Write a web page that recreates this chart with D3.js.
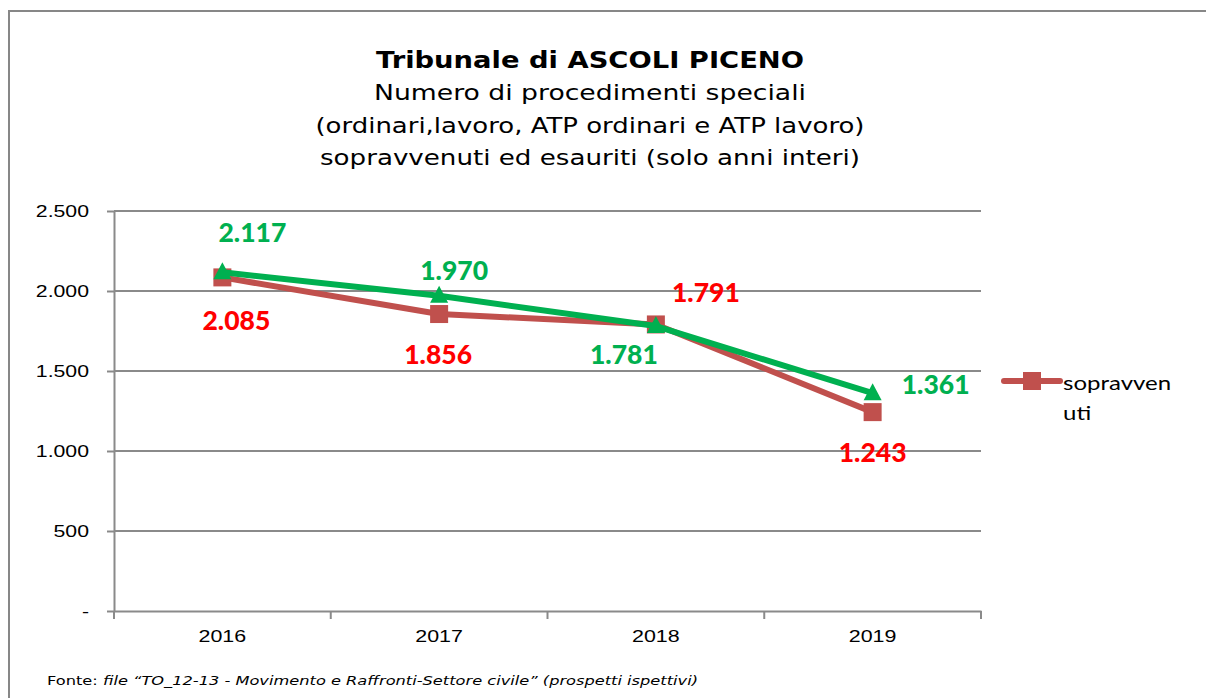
<!DOCTYPE html>
<html>
<head>
<meta charset="utf-8">
<script src="https://cdn.jsdelivr.net/npm/d3@7"></script>
<style>
  body { margin: 0; background: #fff; }
  svg { display: block; }
</style>
</head>
<body>
<svg id="chart" width="1206" height="698"></svg>
<script>
// Chart values
const years = ['2016', '2017', '2018', '2019'];
const sopravvenuti = [2085, 1856, 1791, 1243];
const esauriti = [2117, 1970, 1781, 1361];
const yTicks = [0, 500, 1000, 1500, 2000, 2500];
const titleLines = [
  'Tribunale di ASCOLI PICENO',
  'Numero di procedimenti speciali',
  '(ordinari,lavoro, ATP ordinari e ATP lavoro)',
  'sopravvenuti ed esauriti (solo anni interi)'
];
const legendLabel = ['sopravven', 'uti'];

// label offsets (dx, dy) from each point, as placed in the original
const redLabelOffsets = [[14, 53], [-1, 50], [50, -22], [0, 50]];
const greenLabelOffsets = [[30, -30], [15, -16], [-32, 38], [63, 1]];

const svg = d3.select('#chart');
const width = 1206, height = 698;
const plot = { left: 114, right: 981, top: 211, bottom: 611 };

const itFormat = d3.formatLocale({ decimal: ',', thousands: '.', grouping: [3], currency: ['€', ''] }).format(',d');
const fmt = v => (v === 0 ? '-' : itFormat(v));

// stretch text horizontally, the original glyphs are wider than ours
function stretch(sel, k) {
  sel.each(function () {
    const w = this.getComputedTextLength();
    this.setAttribute('textLength', w * k);
    this.setAttribute('lengthAdjust', 'spacingAndGlyphs');
  });
}

// outer frame (only top and left edges visible)
svg.append('path')
  .attr('d', `M9,${height} L9,11 L${width},11`)
  .attr('fill', 'none')
  .attr('stroke', '#878787')
  .attr('stroke-width', 2);

// title
const titleWidths = [428, 432, 549, 540];
const titleBase = [68, 100, 133, 165];
titleLines.forEach((t, i) => {
  svg.append('text')
    .attr('x', 590)
    .attr('y', titleBase[i])
    .attr('text-anchor', 'middle')
    .attr('font-family', '"DejaVu Sans", Verdana, sans-serif')
    .attr('font-size', i === 0 ? 23 : 22)
    .attr('font-weight', i === 0 ? 'bold' : 'normal')
    .attr('fill', '#000')
    .attr('textLength', titleWidths[i])
    .attr('lengthAdjust', 'spacingAndGlyphs')
    .text(t);
});

// scales
const x = d3.scaleBand().domain(years).range([plot.left, plot.right]).paddingInner(0).paddingOuter(0);
const y = d3.scaleLinear().domain([0, 2500]).range([plot.bottom, plot.top]);
const cx = d => x(d) + x.bandwidth() / 2;

// gridlines
svg.append('g')
  .selectAll('line')
  .data(yTicks.filter(v => v > 0))
  .join('line')
  .attr('x1', plot.left)
  .attr('x2', plot.right)
  .attr('y1', d => y(d))
  .attr('y2', d => y(d))
  .attr('stroke', '#8a8a8a')
  .attr('stroke-width', 2);

// y axis
const yAxis = svg.append('g')
  .attr('transform', `translate(${plot.left},0)`)
  .call(d3.axisLeft(y).tickValues(yTicks).tickFormat(fmt).tickSize(7).tickSizeOuter(0).tickPadding(18));
yAxis.select('.domain').attr('stroke', '#8a8a8a').attr('stroke-width', 2);
yAxis.selectAll('.tick line').attr('stroke', '#8a8a8a').attr('stroke-width', 2);
yAxis.selectAll('.tick text')
  .attr('font-family', '"Liberation Sans", Arial, sans-serif')
  .attr('font-size', 17)
  .attr('fill', '#000')
  .call(stretch, 1.25);

// x axis: labels at band centres, ticks at band edges
const xAxis = svg.append('g')
  .attr('transform', `translate(0,${plot.bottom})`)
  .call(d3.axisBottom(x).tickSize(0).tickSizeOuter(0).tickPadding(19));
xAxis.select('.domain').attr('stroke', '#8a8a8a').attr('stroke-width', 2);
xAxis.selectAll('.tick text')
  .attr('font-family', '"Liberation Sans", Arial, sans-serif')
  .attr('font-size', 17)
  .attr('fill', '#000')
  .call(stretch, 1.26);
svg.append('g')
  .selectAll('line')
  .data([years[0], ...years])
  .join('line')
  .attr('x1', (d, i) => (i === 0 ? x(d) : x(d) + x.bandwidth()))
  .attr('x2', (d, i) => (i === 0 ? x(d) : x(d) + x.bandwidth()))
  .attr('y1', plot.bottom)
  .attr('y2', plot.bottom + 8)
  .attr('stroke', '#8a8a8a')
  .attr('stroke-width', 2);

const line = d3.line().x((d, i) => cx(years[i])).y(d => y(d));

// sopravvenuti (red)
svg.append('path')
  .datum(sopravvenuti)
  .attr('d', line)
  .attr('fill', 'none')
  .attr('stroke', '#C0504D')
  .attr('stroke-width', 6)
  .attr('stroke-linejoin', 'round');
svg.append('g')
  .selectAll('rect')
  .data(sopravvenuti)
  .join('rect')
  .attr('x', (d, i) => cx(years[i]) - 9)
  .attr('y', d => y(d) - 9)
  .attr('width', 18)
  .attr('height', 18)
  .attr('fill', '#C0504D');

// esauriti (green)
svg.append('path')
  .datum(esauriti)
  .attr('d', line)
  .attr('fill', 'none')
  .attr('stroke', '#00B050')
  .attr('stroke-width', 6)
  .attr('stroke-linejoin', 'round');
svg.append('g')
  .selectAll('path')
  .data(esauriti)
  .join('path')
  .attr('d', (d, i) => {
    const px = cx(years[i]), py = y(d);
    return `M${px},${py - 10} L${px + 9},${py + 7} L${px - 9},${py + 7} Z`;
  })
  .attr('fill', '#00B050');

// data labels
function labels(values, offsets, color) {
  svg.append('g')
    .selectAll('text')
    .data(values)
    .join('text')
    .attr('x', (d, i) => cx(years[i]) + offsets[i][0])
    .attr('y', (d, i) => y(d) + offsets[i][1])
    .attr('text-anchor', 'middle')
    .attr('font-family', 'Lato, "Open Sans", sans-serif')
    .attr('font-weight', 900)
    .attr('font-size', 26)
    .attr('fill', color)
    .text(d => fmt(d))
    .call(stretch, 1.02);
}
labels(sopravvenuti, redLabelOffsets, '#FF0000');
labels(esauriti, greenLabelOffsets, '#00B050');

// legend (only the first series is shown in the original)
const lg = svg.append('g').attr('transform', 'translate(1004,381)');
lg.append('line')
  .attr('x1', 0).attr('x2', 56)
  .attr('stroke', '#C0504D')
  .attr('stroke-width', 6)
  .attr('stroke-linecap', 'round');
lg.append('rect')
  .attr('x', 19).attr('y', -9)
  .attr('width', 18).attr('height', 18)
  .attr('fill', '#C0504D');
lg.selectAll('text')
  .data(legendLabel)
  .join('text')
  .attr('x', 59)
  .attr('y', (d, i) => 9 + i * 30)
  .attr('font-family', 'Lato, "Open Sans", sans-serif')
  .attr('font-size', 20)
  .attr('fill', '#000')
  .text(d => d)
  .call(stretch, 1.2);

// source note
const note = svg.append('text')
  .attr('x', 47)
  .attr('y', 685)
  .attr('font-family', '"DejaVu Sans", Verdana, sans-serif')
  .attr('font-size', 13)
  .attr('fill', '#000')
  .attr('textLength', 651)
  .attr('lengthAdjust', 'spacingAndGlyphs');
note.append('tspan').text('Fonte: ');
note.append('tspan')
  .attr('font-style', 'italic')
  .text('file “TO_12-13 - Movimento e Raffronti-Settore civile” (prospetti ispettivi)');
</script>
</body>
</html>
